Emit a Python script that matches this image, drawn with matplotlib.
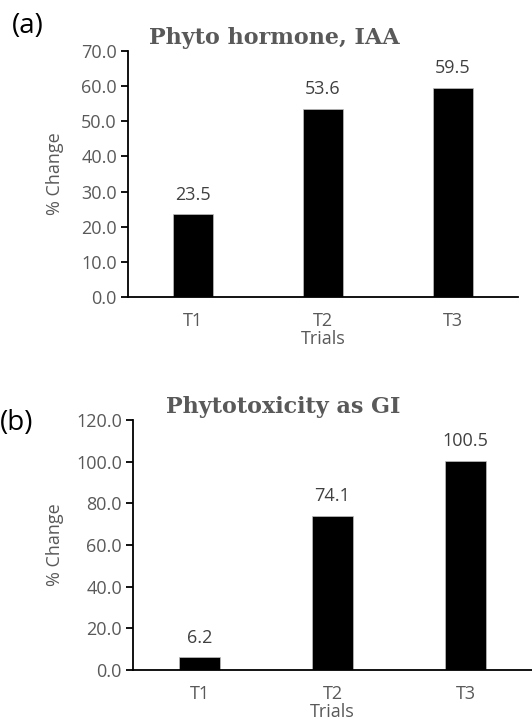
import matplotlib.pyplot as plt

# data
trials = ['T1', 'T2', 'T3']
iaa_change = [23.5, 53.6, 59.5]
gi_change = [6.2, 74.1, 100.5]

grey = '#595959'
plt.rcParams['font.family'] = ['Open Sans', 'DejaVu Sans']

fig = plt.figure(figsize=(5.32, 7.26), dpi=100)
ax1 = fig.add_axes([0.2406, 0.5909, 0.7331, 0.3389])
ax2 = fig.add_axes([0.25, 0.0771, 0.75, 0.3444])


def draw_panel(ax, vals, title, ymax, step, pad, ylpad):
    x = range(len(trials))
    bars = ax.bar(x, vals, width=0.31, color='black', edgecolor='#bfbfbf', linewidth=0.5)
    for b, v in zip(bars, vals):
        ax.text(b.get_x() + b.get_width() / 2, v + pad, f'{v:.1f}',
                ha='center', va='bottom', fontsize=13, color='#404040')
    ax.set_xlim(-0.5, len(trials) - 0.5)
    ax.set_ylim(0, ymax)
    n = int(ymax / step) + 1
    ax.set_yticks([i * step for i in range(n)])
    ax.set_yticklabels([f'{i * step:.1f}' for i in range(n)])
    ax.set_xticks(list(x))
    ax.set_xticklabels(trials)
    ax.spines['top'].set_visible(False)
    ax.spines['right'].set_visible(False)
    for s in ('left', 'bottom'):
        ax.spines[s].set_linewidth(1.3)
    ax.tick_params(axis='y', length=5, width=1.3, labelsize=13, labelcolor=grey, pad=3)
    ax.tick_params(axis='x', length=0, labelsize=13, labelcolor=grey, pad=11)
    ax.set_ylabel('% Change', fontsize=13, color=grey, labelpad=ylpad)
    ax.set_xlabel('Trials', fontsize=13, color=grey, labelpad=0)
    ax.set_title(title, fontsize=16, fontweight='bold', color=grey,
                 family='DejaVu Serif', x=0.376, pad=5)


draw_panel(ax1, iaa_change, 'Phyto hormone, IAA', 70, 10, 3, 12)
draw_panel(ax2, gi_change, 'Phytotoxicity as GI', 120, 20, 5, 9)

fig.text(0.022, 0.983, '(a)', fontsize=20, va='top', ha='left')
fig.text(0.0, 0.436, '(b)', fontsize=20, va='top', ha='left')

fig.savefig('out.png', dpi=100)
